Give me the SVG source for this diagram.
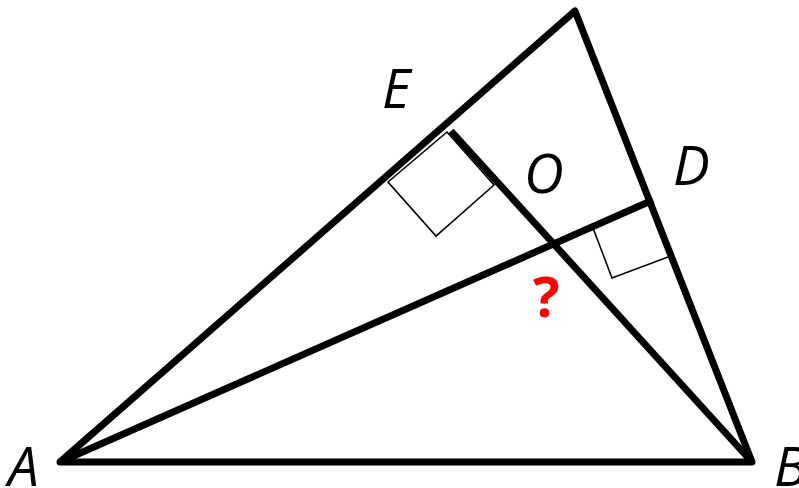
<svg xmlns="http://www.w3.org/2000/svg" width="799" height="488" viewBox="0 0 799 488">
<style>
.thick{fill:none;stroke:#000;stroke-width:7;stroke-linejoin:round;stroke-linecap:butt}
.thin{fill:none;stroke:#000;stroke-width:1.6}
.lbl{font-family:"Open Sans","DejaVu Sans",sans-serif;font-style:italic;font-size:55px;fill:#000}
.q{font-family:"Open Sans","DejaVu Sans",sans-serif;font-weight:bold;font-size:56px;fill:#ff0000}
</style>
<rect width="799" height="488" fill="#fff"/>
<g id="connectors">
<polygon class="thick" points="60,462 575,11 752,462"/>
<line class="thick" x1="752" y1="462" x2="451" y2="131"/>
<line class="thick" x1="60" y1="462" x2="653" y2="200"/>
<polygon class="thin" points="388,182 447,132 494,185 436,236"/>
<polyline class="thin" points="593,228 612,278 668,257"/>
</g>
<g id="A"><text class="lbl" x="8" y="486">A</text></g>
<g id="B"><text class="lbl" x="774" y="486">B</text></g>
<g id="E"><text class="lbl" x="382" y="108">E</text></g>
<g id="O"><text class="lbl" x="524" y="193">O</text></g>
<g id="D"><text class="lbl" x="673" y="185">D</text></g>
<g id="q"><text class="q" x="533" y="317">?</text></g>
</svg>
